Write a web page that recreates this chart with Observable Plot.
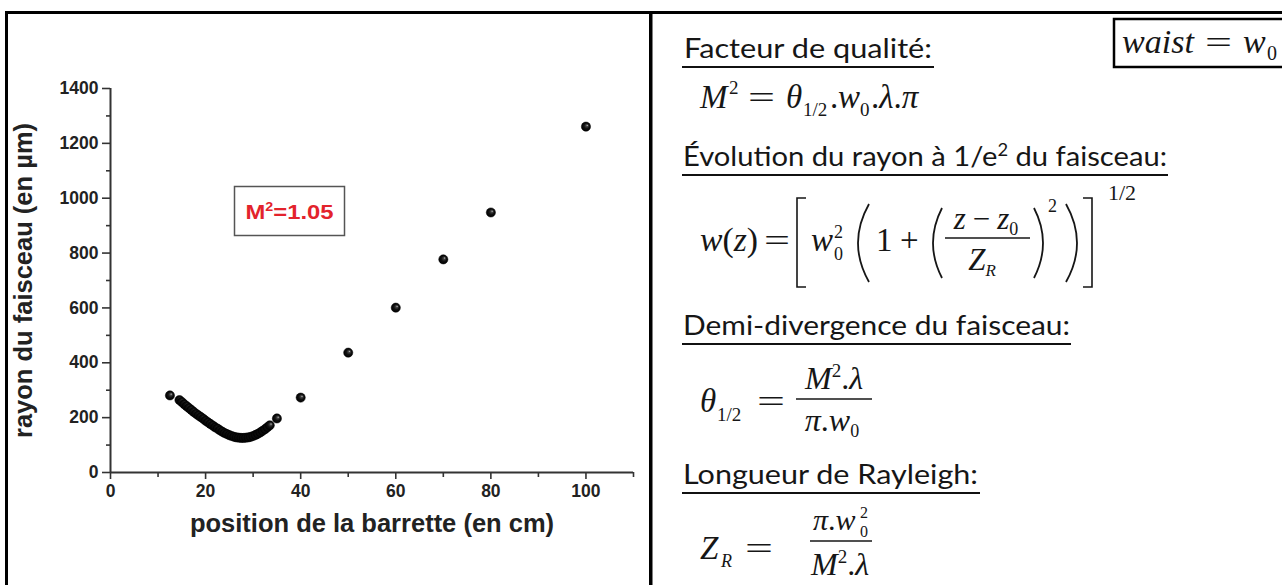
<!DOCTYPE html>
<html><head><meta charset="utf-8">
<script src="https://cdn.jsdelivr.net/npm/d3@7"></script>
<script src="https://cdn.jsdelivr.net/npm/@observablehq/plot@0.6"></script>
<style>
html,body{margin:0;padding:0;background:#fff;}
#wrap{position:relative;width:1282px;height:585px;overflow:hidden;background:#fff;}
#chart{position:absolute;left:0;top:0;}
#overlay{position:absolute;left:0;top:0;}
</style></head><body>
<div id="wrap"><div id="chart"></div><svg id="overlay" width="1282" height="585" xmlns="http://www.w3.org/2000/svg"></svg></div>
<script>
// ---- data ----
const positions = [12.5,
  14.5,15,15.5,16,16.5,17,17.5,18,18.5,19,19.5,20,20.5,21,21.5,22,22.5,23,23.5,24,
  24.5,25,25.5,26,26.5,27,27.5,28,28.5,29,29.5,30,30.5,31,31.5,32,32.5,33,33.5,
  35,40,50,60,70,80,100];
const radii = [281,
  264,257,249,242,235,228,221,214,208,202,196,189,183,177,171,165,160,154,149,144,
  140,136,133,130,128,127,126,126,127,128,130,133,137,141,146,152,158,165,172,
  197,273,437,601,777,948,1261];
const xMajorTicks = [0,20,40,60,80,100];
const xMinorTicks = [10,30,50,70,90,110];
const yMajorTicks = [0,200,400,600,800,1000,1200,1400];
const yMinorTicks = [100,300,500,700,900,1100,1300];
const xLabel = "position de la barrette (en cm)";
const yLabel = "rayon du faisceau (en µm)";
const annotationBase = "M", annotationSup = "2", annotationRest = "=1.05";

const points = positions.map((x, i) => ({x, y: radii[i]}));

const chart = Plot.plot({
  width: 645, height: 560,
  marginLeft: 110, marginRight: 12, marginTop: 88, marginBottom: 88,
  style: {background: "transparent", fontFamily: "'Liberation Sans', Arial, sans-serif", fontWeight: "bold", fontSize: "17.5px", color: "#222"},
  x: {domain: [0, 110]},
  y: {domain: [0, 1400]},
  marks: [
    Plot.axisX(xMajorTicks, {tickSize: 7, tickPadding: 5, fontSize: 17.5, label: null, strokeWidth: 1.6, stroke: "#333", tickFormat: d => String(d)}),
    Plot.axisX(xMinorTicks, {tickSize: 5, label: null, strokeWidth: 1.6, stroke: "#333", tickFormat: () => ""}),
    Plot.axisY(yMajorTicks, {tickSize: 8, tickPadding: 4, fontSize: 17.5, label: null, strokeWidth: 1.6, stroke: "#333", tickFormat: d => String(d)}),
    Plot.axisY(yMinorTicks, {tickSize: 4, label: null, strokeWidth: 1.6, stroke: "#333", tickFormat: () => ""}),
    Plot.ruleY([0], {stroke: "#333", strokeWidth: 2}),
    Plot.ruleX([0], {stroke: "#333", strokeWidth: 2}),
    Plot.text([xLabel], {text: d => d, frameAnchor: "bottom", lineAnchor: "middle", dy: 51, fontSize: 25.5, fontWeight: "bold", fill: "#222"}),
    Plot.text([yLabel], {text: d => d, frameAnchor: "left", lineAnchor: "middle", textAnchor: "middle", rotate: -90, dx: -87, fontSize: 25.5, fontWeight: "bold", fill: "#222"}),
    Plot.dot(points, {x: "x", y: "y", r: 4.6, fill: "url(#ball)", stroke: "#000", strokeWidth: 0.5})
  ]
});
document.getElementById("chart").append(chart);

// shaded ball gradient
const defs = d3.select(chart).insert("defs", ":first-child");
const g = defs.append("radialGradient").attr("id", "ball").attr("cx", 0.5).attr("cy", 0.5).attr("r", 0.5).attr("fx", 0.66).attr("fy", 0.34);
[[0, "#c8c8c8"], [0.22, "#444"], [0.55, "#111"], [1, "#000"]].forEach(([o, c]) => g.append("stop").attr("offset", o).attr("stop-color", c));

// ---- overlay: frame, annotation, formula panel ----
const ov = document.getElementById("overlay");
const it = (s, x, y, size, extra = "") => `<text x="${x}" y="${y}" font-size="${size}" font-style="italic" ${extra}>${s}</text>`;
const up = (s, x, y, size, extra = "") => `<text x="${x}" y="${y}" font-size="${size}" ${extra}>${s}</text>`;
const eq = (x, y, w) => `<text x="${x}" y="${y}" font-size="32" textLength="${w}" lengthAdjust="spacingAndGlyphs">=</text>`;
const frac = (x1, x2, y) => `<line x1="${x1}" x2="${x2}" y1="${y}" y2="${y}" stroke="#161616" stroke-width="1.6"/>`;

ov.innerHTML = `
<rect x="5" y="11" width="1277" height="3" fill="#000"/>
<rect x="5" y="11" width="3" height="574" fill="#000"/>
<rect x="649" y="11" width="3.5" height="574" fill="#000"/>

<rect x="234.5" y="186.5" width="110" height="49" fill="#fff" stroke="#555" stroke-width="1.5"/>
<text x="289.5" y="219" text-anchor="middle" font-family="'Liberation Sans', Arial, sans-serif" font-weight="bold" font-size="20" fill="#e3232c" textLength="88" lengthAdjust="spacingAndGlyphs">${annotationBase}<tspan dy="-8" font-size="12">${annotationSup}</tspan><tspan dy="8">${annotationRest}</tspan></text>

<g font-family="Lato, 'Noto Sans', sans-serif" font-size="27" fill="#161616">
  <text x="684" y="58" textLength="248" lengthAdjust="spacingAndGlyphs">Facteur de qualité:</text>
  <text x="683" y="166" textLength="484" lengthAdjust="spacingAndGlyphs">Évolution du rayon à 1/e<tspan dy="-10" font-size="17">2</tspan><tspan dy="10"> du faisceau:</tspan></text>
  <text x="683" y="335" textLength="387" lengthAdjust="spacingAndGlyphs">Demi-divergence du faisceau:</text>
  <text x="683" y="484" textLength="295" lengthAdjust="spacingAndGlyphs">Longueur de Rayleigh:</text>
</g>
<g stroke="#111" stroke-width="2.2">
  <line x1="682" x2="934" y1="67" y2="67"/>
  <line x1="682" x2="1168" y1="175" y2="175"/>
  <line x1="682" x2="1071" y1="344" y2="344"/>
  <line x1="682" x2="980" y1="493" y2="493"/>
</g>

<g font-family="'Liberation Serif', 'DejaVu Serif', serif" fill="#161616">
  <!-- M^2 = theta_{1/2}.w_0.lambda.pi -->
  ${it("M", 700, 108, 33)}
  ${up("2", 729, 94, 19)}
  ${eq(748, 108, 27)}
  ${it("θ", 786, 108, 33)}
  ${up("1/2", 803, 116, 19)}
  ${up(".", 830, 108, 33)}
  ${it("w", 838, 108, 33)}
  ${up("0", 860, 116, 19)}
  <text x="871" y="108" font-size="33">.<tspan font-style="italic">λ</tspan>.<tspan font-style="italic">π</tspan></text>

  <!-- waist box -->
  <rect x="1114" y="19" width="200" height="48" fill="none" stroke="#000" stroke-width="2.5"/>
  ${it("waist", 1122, 53, 34, 'textLength="72" lengthAdjust="spacingAndGlyphs"')}
  ${eq(1205, 53, 27)}
  ${it("w", 1243, 53, 34)}
  ${up("0", 1267, 60, 20)}

  <!-- w(z) -->
  <text x="700" y="251" font-size="33" textLength="58" lengthAdjust="spacingAndGlyphs"><tspan font-style="italic">w</tspan>(<tspan font-style="italic">z</tspan>)</text>
  ${eq(764, 251, 26)}
  <path d="M806,198 H797 V287 H806" fill="none" stroke="#161616" stroke-width="1.6"/>
  ${it("w", 811, 251, 33)}
  ${up("2", 834, 238, 18)}
  ${up("0", 834, 260, 18)}
  <path d="M869,204 Q847,243 869,282" fill="none" stroke="#161616" stroke-width="1.8"/>
  ${up("1", 876, 251, 33)}
  ${up("+", 900, 251, 33)}
  <path d="M942,208 Q924,243 942,278" fill="none" stroke="#161616" stroke-width="1.8"/>
  <text x="986" y="229" font-size="31" text-anchor="middle"><tspan font-style="italic">z</tspan><tspan dx="7">−</tspan><tspan dx="7" font-style="italic">z</tspan><tspan dy="6" font-size="18">0</tspan></text>
  ${frac(945, 1030, 238)}
  <text x="982" y="270" font-size="31" text-anchor="middle"><tspan font-style="italic">Z</tspan><tspan dy="6" font-size="17" font-style="italic">R</tspan></text>
  <path d="M1034,208 Q1052,243 1034,278" fill="none" stroke="#161616" stroke-width="1.8"/>
  ${up("2", 1048, 212, 18)}
  <path d="M1066,204 Q1088,243 1066,282" fill="none" stroke="#161616" stroke-width="1.8"/>
  <path d="M1083,198 H1092 V287 H1083" fill="none" stroke="#161616" stroke-width="1.6"/>
  ${up("1/2", 1108, 200, 22)}

  <!-- theta_{1/2} = M^2.lambda / pi.w0 -->
  ${it("θ", 700, 412, 33)}
  ${up("1/2", 717, 421, 19)}
  ${eq(757, 412, 28)}
  <text x="834" y="389" font-size="32" text-anchor="middle"><tspan font-style="italic">M</tspan><tspan dy="-12" font-size="19">2</tspan><tspan dy="12">.</tspan><tspan font-style="italic">λ</tspan></text>
  ${frac(796, 872, 399)}
  <text x="832" y="431" font-size="32" text-anchor="middle"><tspan font-style="italic">π</tspan>.<tspan font-style="italic">w</tspan><tspan dy="6" font-size="18">0</tspan></text>

  <!-- Z_R = pi.w0^2 / M^2.lambda -->
  ${it("Z", 700, 559, 33)}
  ${it("R", 721, 567, 18)}
  ${eq(745, 559, 28)}
  <text x="813" y="530" font-size="30"><tspan font-style="italic">π</tspan>.<tspan font-style="italic">w</tspan></text>
  ${up("2", 860, 518, 16)}
  ${up("0", 860, 537, 16)}
  ${frac(810, 872, 541)}
  <text x="840" y="575" font-size="32" text-anchor="middle"><tspan font-style="italic">M</tspan><tspan dy="-12" font-size="19">2</tspan><tspan dy="12">.</tspan><tspan font-style="italic">λ</tspan></text>
</g>`;
</script>
</body></html>
